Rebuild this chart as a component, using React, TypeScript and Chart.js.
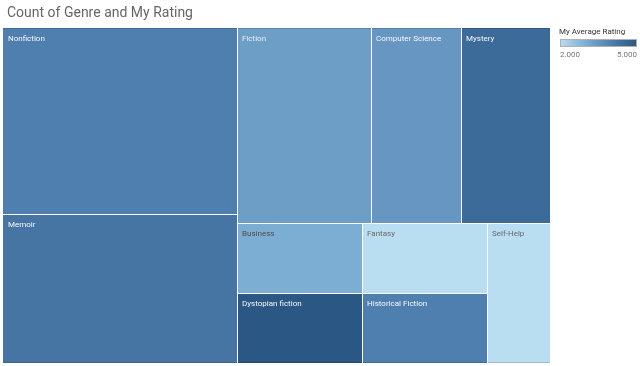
import React, { useEffect, useRef } from "react";
import { Chart, registerables } from "chart.js";

Chart.register(...registerables);

// ---- data ----
const genres = [
  "Nonfiction",
  "Memoir",
  "Fiction",
  "Computer Science",
  "Mystery",
  "Business",
  "Fantasy",
  "Self-Help",
  "Dystopian fiction",
  "Historical Fiction",
];
const counts = [5, 4, 3, 2, 2, 1, 1, 1, 1, 1];
const ratings = [4.0, 4.25, 3.33, 3.5, 4.5, 3.0, 2.0, 2.0, 5.0, 4.0];
const legendTicks = ["2.000", "5.000"];
const ratingRange = [2, 5];
const chartTitle = "Count of Genre and My Rating";
const legendTitle = "My Average Rating";

// treemap grouping (nested slice structure; sizes come from counts)
type Node = string | { dir: "h" | "v"; children: Node[] };
const tree: Node = {
  dir: "h",
  children: [
    { dir: "v", children: ["Nonfiction", "Memoir"] },
    {
      dir: "v",
      children: [
        { dir: "h", children: ["Fiction", "Computer Science", "Mystery"] },
        {
          dir: "h",
          children: [
            { dir: "v", children: ["Business", "Dystopian fiction"] },
            { dir: "v", children: ["Fantasy", "Historical Fiction"] },
            "Self-Help",
          ],
        },
      ],
    },
  ],
};

// colour ramp (style)
const colorStops: [number, [number, number, number]][] = [
  [2, [185, 221, 241]],
  [3, [124, 173, 210]],
  [4, [79, 127, 175]],
  [5, [42, 87, 131]],
];

function rampColor(v: number, k = 1): string {
  let c = colorStops[colorStops.length - 1][1];
  for (let i = 0; i < colorStops.length - 1; i++) {
    const [a, ca] = colorStops[i];
    const [b, cb] = colorStops[i + 1];
    if (v <= b) {
      const t = Math.max(0, Math.min(1, (v - a) / (b - a)));
      c = [0, 1, 2].map((j) => ca[j] + (cb[j] - ca[j]) * t) as any;
      break;
    }
  }
  return `rgb(${Math.round(c[0] * k)},${Math.round(c[1] * k)},${Math.round(c[2] * k)})`;
}

function weight(n: Node): number {
  if (typeof n === "string") return counts[genres.indexOf(n)];
  return n.children.reduce((s, c) => s + weight(c), 0);
}

type Rect = { x0: number; y0: number; x1: number; y1: number };
function layout(n: Node, r: Rect, out: Record<string, Rect>) {
  if (typeof n === "string") {
    out[n] = r;
    return;
  }
  const total = weight(n);
  let pos = n.dir === "h" ? r.x0 : r.y0;
  const span = n.dir === "h" ? r.x1 - r.x0 : r.y1 - r.y0;
  for (const c of n.children) {
    const s = (weight(c) / total) * span;
    const cr =
      n.dir === "h"
        ? { x0: pos, x1: pos + s, y0: r.y0, y1: r.y1 }
        : { x0: r.x0, x1: r.x1, y0: pos, y1: pos + s };
    layout(c, cr, out);
    pos += s;
  }
}

const FONT = "Roboto, 'Noto Sans', sans-serif";

const treemapPlugin = {
  id: "treemap",
  afterDatasetsDraw(chart: any) {
    const { ctx, scales } = chart;
    const xs = scales.x;
    const ys = scales.y;
    const rects: Record<string, Rect> = {};
    layout(tree, { x0: 0, y0: 0, x1: 1, y1: 1 }, rects);
    ctx.save();
    genres.forEach((g, i) => {
      const r = rects[g];
      const X0 = Math.round(xs.getPixelForValue(r.x0));
      const X1 = Math.round(xs.getPixelForValue(r.x1));
      const Y0 = Math.round(ys.getPixelForValue(r.y0));
      const Y1 = Math.round(ys.getPixelForValue(r.y1));
      ctx.fillStyle = rampColor(ratings[i]);
      ctx.fillRect(X0, Y0, X1 - X0, Y1 - Y0);
      // outer darker rim
      ctx.fillStyle = rampColor(ratings[i], 0.85);
      if (r.y0 === 0) ctx.fillRect(X0, Y0, X1 - X0, 1);
      if (r.y1 === 1) ctx.fillRect(X0, Y1 - 1, X1 - X0, 1);
      // white separators
      ctx.fillStyle = "#ffffff";
      if (r.x0 > 0) ctx.fillRect(X0, Y0, 1, Y1 - Y0);
      if (r.y0 > 0) ctx.fillRect(X0, Y0, X1 - X0, 1);
      // label
      ctx.font = `8px ${FONT}`;
      ctx.textBaseline = "middle";
      ctx.textAlign = "left";
      const v = ratings[i];
      ctx.fillStyle = v < 3.2 ? (v < 2.5 ? "#6a6a6a" : "#4e4e4e") : v < 3.4 ? "#e8eef4" : "#f6f8fb";
      ctx.fillText(g, X0 + 5, Y0 + 11);
    });

    // title
    ctx.font = `14px ${FONT}`;
    ctx.fillStyle = "#666666";
    ctx.textBaseline = "middle";
    ctx.textAlign = "left";
    ctx.fillText(chartTitle, 7, 13);

    // colour legend
    const lx0 = 560;
    const lx1 = 637;
    ctx.font = `8px ${FONT}`;
    ctx.fillStyle = "#333333";
    ctx.fillText(legendTitle, 559, 32);
    const grad = ctx.createLinearGradient(lx0, 0, lx1, 0);
    colorStops.forEach(([v]) => {
      grad.addColorStop((v - ratingRange[0]) / (ratingRange[1] - ratingRange[0]), rampColor(v));
    });
    ctx.fillStyle = grad;
    ctx.fillRect(lx0, 39, lx1 - lx0, 8);
    ctx.strokeStyle = "#b0b0b0";
    ctx.lineWidth = 1;
    ctx.strokeRect(lx0 + 0.5, 39.5, lx1 - lx0 - 1, 7);
    ctx.fillStyle = "#777777";
    ctx.textAlign = "left";
    ctx.fillText(legendTicks[0], lx0, 55);
    ctx.textAlign = "right";
    ctx.fillText(legendTicks[1], lx1, 55);
    ctx.restore();
  },
};

export default function App() {
  const ref = useRef<HTMLCanvasElement | null>(null);
  useEffect(() => {
    document.body.style.margin = "0";
    const rects: Record<string, Rect> = {};
    layout(tree, { x0: 0, y0: 0, x1: 1, y1: 1 }, rects);
    const chart = new Chart(ref.current as HTMLCanvasElement, {
      type: "scatter",
      data: {
        datasets: [
          {
            label: "Genres",
            data: genres.map((g) => ({
              x: (rects[g].x0 + rects[g].x1) / 2,
              y: (rects[g].y0 + rects[g].y1) / 2,
            })),
            pointRadius: 0,
            pointHoverRadius: 0,
          },
        ],
      },
      options: {
        animation: false,
        responsive: false,
        maintainAspectRatio: false,
        layout: { padding: { left: 3, top: 28, right: 90, bottom: 3 } },
        plugins: { legend: { display: false }, title: { display: false }, tooltip: { enabled: false } },
        scales: {
          x: { type: "linear", min: 0, max: 1, display: false },
          y: { type: "linear", min: 0, max: 1, reverse: true, display: false },
        },
      },
      plugins: [treemapPlugin],
    });
    return () => chart.destroy();
  }, []);
  return (
    <div style={{ position: "fixed", left: 0, top: 0, width: 640, height: 366, background: "#fff" }}>
      <canvas ref={ref} width={640} height={366} style={{ width: 640, height: 366, display: "block" }} />
    </div>
  );
}
